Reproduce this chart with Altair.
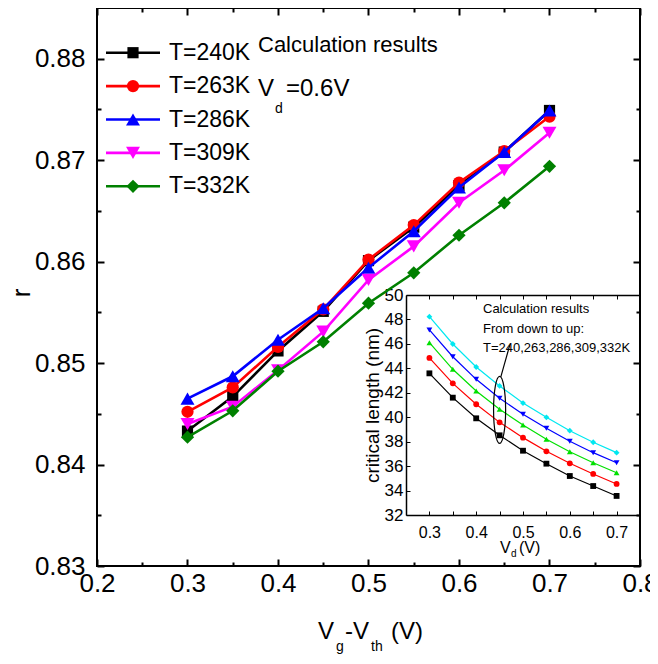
import altair as alt
import pandas as pd

FONT = "Liberation Sans, Arial, sans-serif"

# ---------------- data ----------------
X_VALS = [0.30, 0.35, 0.40, 0.45, 0.50, 0.55, 0.60, 0.65, 0.70]
SERIES = ["T=240K", "T=263K", "T=286K", "T=309K", "T=332K"]

R_240 = [0.8433, 0.8467, 0.8512, 0.8551, 0.8601, 0.8634, 0.8675, 0.8708, 0.8749]
R_263 = [0.8452, 0.8476, 0.8516, 0.8553, 0.8602, 0.8636, 0.8678, 0.8709, 0.8743]
R_286 = [0.8465, 0.8487, 0.8523, 0.8554, 0.8594, 0.8630, 0.8673, 0.8708, 0.8749]
R_309 = [0.8440, 0.8457, 0.8493, 0.8531, 0.8582, 0.8615, 0.8658, 0.8690, 0.8727]
R_332 = [0.8427, 0.8453, 0.8492, 0.8521, 0.8559, 0.8589, 0.8626, 0.8658, 0.8694]

CL_240 = [43.59, 41.60, 39.91, 38.52, 37.26, 36.20, 35.19, 34.37, 33.56]
CL_263 = [44.85, 42.77, 41.06, 39.58, 38.33, 37.21, 36.23, 35.36, 34.54]
CL_286 = [46.10, 43.92, 42.15, 40.65, 39.36, 38.19, 37.18, 36.28, 35.46]
CL_309 = [47.14, 44.95, 43.10, 41.55, 40.24, 39.09, 38.03, 37.10, 36.28]
CL_332 = [48.23, 45.99, 44.11, 42.56, 41.16, 39.99, 38.90, 37.95, 37.10]

MAIN_X_TICKS = [0.2, 0.3, 0.4, 0.5, 0.6, 0.7, 0.8]
MAIN_X_MINOR = [0.25, 0.35, 0.45, 0.55, 0.65, 0.75]
MAIN_Y_TICKS = [0.83, 0.84, 0.85, 0.86, 0.87, 0.88]
MAIN_Y_MINOR = [0.835, 0.845, 0.855, 0.865, 0.875]
INSET_X_TICKS = [0.30, 0.35, 0.40, 0.45, 0.50, 0.55, 0.60, 0.65, 0.70]
INSET_Y_TICKS = [32, 34, 36, 38, 40, 42, 44, 46, 48, 50]

MAIN_COLORS = ["#000000", "#ff0000", "#0000ff", "#ff00ff", "#008000"]
INSET_COLORS = ["#000000", "#ff0000", "#00e000", "#0000ff", "#00e8f0"]
SHAPES = ["square", "circle", "triangle-up", "triangle-down", "diamond"]
SIZES = [125, 150, 195, 195, 175]
INSET_SHAPES = ["square", "circle", "triangle-up", "triangle-down", "diamond"]

R_ALL = [R_240, R_263, R_286, R_309, R_332]
CL_ALL = [CL_240, CL_263, CL_286, CL_309, CL_332]

W, H = 543, 558

main_df = pd.DataFrame({
    "x": X_VALS * len(SERIES),
    "r": sum(R_ALL, []),
    "T": [s for s in SERIES for _ in X_VALS],
})
inset_df = pd.DataFrame({
    "x": X_VALS * len(SERIES),
    "cl": sum(CL_ALL, []),
    "T": [s for s in SERIES for _ in X_VALS],
})
legend_df = pd.DataFrame({"T": SERIES, "size": SIZES})

XM = alt.Scale(domain=[0.2, 0.8], nice=False, zero=False)
YM = alt.Scale(domain=[0.83, 0.885], nice=False, zero=False)
XI = alt.Scale(domain=[0.25, 0.75], range=[309, 543], nice=False, zero=False)
YI = alt.Scale(domain=[32, 50], range=[507, 287], nice=False, zero=False)


def axis(orient, values, size, labels=False, fs=26, pad=0, offset=0,
         domain=False, width=2, dwidth=2, **kw):
    return alt.Axis(orient=orient, values=values, tickSize={"expr": str(-size)},
                    labels=labels, labelFont=FONT, labelFontSize=fs,
                    labelColor="black", labelPadding=pad, labelFlush=False,
                    labelOverlap=False, domain=domain, domainColor="black",
                    domainWidth=dwidth, tickColor="black", tickWidth=width,
                    grid=False, offset=offset, title=None, **kw)


def carrier(df, yfield, xs, ys, xax, yax):
    return alt.Chart(df).mark_point(opacity=0).encode(
        x=alt.X("x:Q", scale=xs, axis=xax),
        y=alt.Y(yfield + ":Q", scale=ys, axis=yax),
    )


# ---------------- main plot ----------------
main_layers = []
for i, s in enumerate(SERIES):
    d = main_df[main_df["T"] == s]
    main_layers.append(
        alt.Chart(d).mark_line(color=MAIN_COLORS[i], strokeWidth=2.6).encode(
            x=alt.X("x:Q", scale=XM, axis=None),
            y=alt.Y("r:Q", scale=YM, axis=None)))
    main_layers.append(
        alt.Chart(d).mark_point(color=MAIN_COLORS[i], filled=True, opacity=1,
                                shape=SHAPES[i], size=SIZES[i]).encode(
            x=alt.X("x:Q", scale=XM, axis=None),
            y=alt.Y("r:Q", scale=YM, axis=None)))

main_layers += [
    carrier(main_df, "r", XM, YM,
            axis("bottom", MAIN_X_TICKS, 7, labels=True, pad=11, format=".1f"),
            axis("left", MAIN_Y_TICKS, 7, labels=True, pad=19, format=".2f")),
    carrier(main_df, "r", XM, YM,
            axis("bottom", MAIN_X_MINOR, 4), axis("left", MAIN_Y_MINOR, 4)),
    carrier(main_df, "r", XM, YM,
            axis("top", MAIN_X_TICKS, 7), axis("right", MAIN_Y_TICKS, 7)),
    carrier(main_df, "r", XM, YM,
            axis("top", MAIN_X_MINOR, 4), axis("right", MAIN_Y_MINOR, 4)),
]
main = alt.layer(*main_layers).resolve_axis(x="independent", y="independent")

# ---------------- inset ----------------
inset_layers = []
for i, s in enumerate(SERIES):
    d = inset_df[inset_df["T"] == s]
    inset_layers.append(
        alt.Chart(d).mark_line(color=INSET_COLORS[i], strokeWidth=1.2).encode(
            x=alt.X("x:Q", scale=XI, axis=None),
            y=alt.Y("cl:Q", scale=YI, axis=None)))
    inset_layers.append(
        alt.Chart(d).mark_point(color=INSET_COLORS[i], filled=True, opacity=1,
                                shape=INSET_SHAPES[i], size=34).encode(
            x=alt.X("x:Q", scale=XI, axis=None),
            y=alt.Y("cl:Q", scale=YI, axis=None)))

one = alt.Data(values=[{}])
ellipse = alt.Chart(one).mark_point(
    shape="M0,-1A0.18,1,0,1,1,0,1A0.18,1,0,1,1,0,-1Z", size=4489,
    filled=False, stroke="black", strokeWidth=1.2, opacity=1).encode(
    x=alt.X(datum=0.45, scale=XI, axis=None),
    y=alt.Y(datum=40.6, scale=YI, axis=None))
pointer = alt.Chart(one).mark_rule(color="black", strokeWidth=1.2).encode(
    x=alt.X(datum=0.4526, scale=XI, axis=None),
    y=alt.Y(datum=43.3, scale=YI, axis=None),
    x2=alt.X2(datum=0.4717),
    y2=alt.Y2(datum=45.9))

inset_layers += [
    ellipse, pointer,
    carrier(inset_df, "cl", XI, YI,
            axis("bottom", INSET_X_TICKS, 4, labels=True, fs=16, pad=13,
                 offset=-51, domain=True, width=1, dwidth=1.5,
                 labelExpr="abs(datum.value*10 - round(datum.value*10)) < 0.01 ? format(datum.value, '.1f') : ''"),
            alt.Axis(orient="left", values=INSET_Y_TICKS, tickSize={"expr": "-4"},
                     labelFont=FONT, labelFontSize=17, labelColor="black",
                     labelPadding=7, labelFlush=False, labelOverlap=False,
                     domain=True, domainColor="black", domainWidth=1.5,
                     tickColor="black", tickWidth=1, grid=False, offset=-309,
                     format="d", title="critical length (nm)", titleFont=FONT,
                     titleFontSize=19, titleFontWeight="normal",
                     titleColor="black", titlePadding=2)),
    carrier(inset_df, "cl", XI, YI,
            axis("top", INSET_X_TICKS, 4, offset=-287, domain=True, width=1,
                 dwidth=1.5),
            None),
]
inset = alt.layer(*inset_layers).resolve_axis(x="independent", y="independent")

# ---------------- legend ----------------
LEG_Y = alt.Scale(domain=SERIES, range=[28, 195], padding=0)
CSCALE = alt.Scale(domain=SERIES, range=MAIN_COLORS)
SSCALE = alt.Scale(domain=SERIES, range=SHAPES)
leg_base = alt.Chart(legend_df)
legend = alt.layer(
    leg_base.mark_rule(strokeWidth=2.6).encode(
        x=alt.value(9), x2=alt.value(63),
        y=alt.Y("T:N", scale=LEG_Y, axis=None),
        color=alt.Color("T:N", scale=CSCALE, legend=None)),
    leg_base.mark_point(filled=True, opacity=1).encode(
        x=alt.value(36),
        y=alt.Y("T:N", scale=LEG_Y, axis=None),
        color=alt.Color("T:N", scale=CSCALE, legend=None),
        shape=alt.Shape("T:N", scale=SSCALE, legend=None),
        size=alt.Size("size:Q", scale=None, legend=None)),
    leg_base.mark_text(align="left", baseline="middle", font=FONT,
                       fontSize=23, color="black").encode(
        x=alt.value(72),
        y=alt.Y("T:N", scale=LEG_Y, axis=None),
        text="T:N"),
)


# ---------------- texts ----------------
def txt(s, x, y, fs, angle=0, align="left"):
    kw = {}
    if angle:
        kw["angle"] = angle
    return alt.Chart(one).mark_text(
        text=s, align=align, baseline="middle", font=FONT, fontSize=fs,
        color="black", **kw).encode(x=alt.value(x), y=alt.value(y))


texts = [
    txt("Calculation results", 161, 37, 22),
    txt("V", 161, 81, 24),
    txt("d", 178, 101, 14),
    txt("=0.6V", 189, 81, 24),
    # main x title
    txt("V", 221, 624, 24),
    txt("g", 239, 639, 14),
    txt("-V", 248, 624, 24),
    txt("th", 274, 639, 14),
    txt("(V)", 294, 624, 24),
    # y title
    txt("r", -75, 285, 26, angle=270, align="center"),
    # inset x title
    txt("V", 403, 540, 16),
    txt("d", 414, 546, 10),
    txt("(V)", 422, 540, 16),
    # inset annotation
    txt("Calculation results", 386, 301, 13),
    txt("From down to up:", 386, 321, 13),
    txt("T=240,263,286,309,332K", 386, 340, 13),
]

chart = alt.layer(main, inset, legend, *texts).resolve_scale(
    x="independent", y="independent"
).resolve_axis(
    x="independent", y="independent"
).properties(
    width=W, height=H,
    padding={"left": 89, "top": 0, "right": 10, "bottom": 90},
    autosize=alt.AutoSizeParams(type="none"),
).configure_view(stroke="black", strokeWidth=2)

chart.save("out.html", embed_options={"renderer": "svg", "actions": False})
